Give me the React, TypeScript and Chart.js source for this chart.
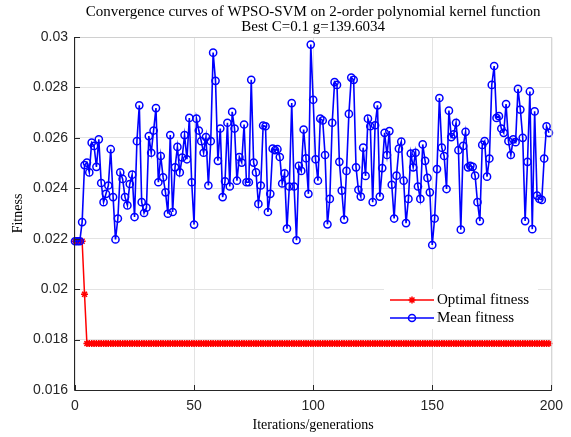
import React, { useEffect, useRef } from "react";
import { Chart, registerables } from "chart.js";
Chart.register(...registerables);

const titleLines = [
  "Convergence curves of WPSO-SVM on 2-order polynomial kernel function",
  "Best C=0.1 g=139.6034",
];
const xAxisTitle = "Iterations/generations";
const yAxisTitle = "Fitness";
const seriesNames = ["Optimal fitness", "Mean fitness"];

const iterations = Array.from({ length: 200 }, (_, i) => i);

const meanFitness = [
  0.0219, 0.0219, 0.0219, 0.02266, 0.02492, 0.02502, 0.02463, 0.02581, 0.02568, 0.02485,
  0.02594, 0.02421, 0.02345, 0.02378, 0.02411, 0.02555, 0.02365, 0.02197, 0.0228, 0.02463,
  0.02437, 0.02365, 0.02332, 0.02417, 0.02454, 0.02286, 0.02587, 0.02729, 0.02345, 0.02302,
  0.02323, 0.02607, 0.02541, 0.02629, 0.02718, 0.02424, 0.02528, 0.02443, 0.02384, 0.02299,
  0.02611, 0.02306, 0.02483, 0.02564, 0.02463, 0.02522, 0.02611, 0.02515, 0.02679, 0.02424,
  0.02256, 0.02676, 0.02629, 0.02587, 0.02541, 0.02603, 0.02411, 0.02587, 0.02938, 0.02826,
  0.02509, 0.02637, 0.02365, 0.02428, 0.0266, 0.02407, 0.02703, 0.02637, 0.0243, 0.02524,
  0.02502, 0.02653, 0.02424, 0.02424, 0.0283, 0.02502, 0.02463, 0.02338, 0.02411, 0.02649,
  0.02646, 0.02306, 0.02378, 0.02557, 0.02551, 0.02555, 0.02524, 0.02419, 0.02459, 0.0224,
  0.02407, 0.02738, 0.02407, 0.02194, 0.02489, 0.02469, 0.02633, 0.02519, 0.02378, 0.0297,
  0.02751, 0.02515, 0.0243, 0.02676, 0.02669, 0.02532, 0.02257, 0.02358, 0.0266, 0.02821,
  0.0281, 0.02505, 0.02391, 0.02276, 0.02469, 0.02695, 0.02839, 0.0283, 0.02483, 0.02394,
  0.02367, 0.02561, 0.02449, 0.02676, 0.02646, 0.02345, 0.0265, 0.02729, 0.02367, 0.0248,
  0.0262, 0.02532, 0.02627, 0.02414, 0.0228, 0.0245, 0.02557, 0.02585, 0.0243, 0.02262,
  0.02358, 0.02538, 0.02483, 0.02541, 0.02407, 0.02358, 0.02574, 0.02509, 0.02441, 0.02384,
  0.02175, 0.0228, 0.02476, 0.02758, 0.02561, 0.02528, 0.02397, 0.02708, 0.02603, 0.02614,
  0.0266, 0.02551, 0.02236, 0.02568, 0.02624, 0.02483, 0.02489, 0.02485, 0.0245, 0.02345,
  0.0227, 0.02572, 0.02587, 0.02446, 0.02518, 0.0281, 0.02885, 0.02679, 0.02686, 0.02637,
  0.0262, 0.02734, 0.02587, 0.02532, 0.02594, 0.02583, 0.02794, 0.02712, 0.026, 0.0227,
  0.02505, 0.02784, 0.02238, 0.02705, 0.02371, 0.02358, 0.02354, 0.02518, 0.02646, 0.0262,
];

const optimalFitness = [
  0.0219, 0.0219, 0.0219, 0.0219, 0.0198, 0.01784, 0.01784, 0.01784, 0.01784, 0.01784,
  0.01784, 0.01784, 0.01784, 0.01784, 0.01784, 0.01784, 0.01784, 0.01784, 0.01784, 0.01784,
  0.01784, 0.01784, 0.01784, 0.01784, 0.01784, 0.01784, 0.01784, 0.01784, 0.01784, 0.01784,
  0.01784, 0.01784, 0.01784, 0.01784, 0.01784, 0.01784, 0.01784, 0.01784, 0.01784, 0.01784,
  0.01784, 0.01784, 0.01784, 0.01784, 0.01784, 0.01784, 0.01784, 0.01784, 0.01784, 0.01784,
  0.01784, 0.01784, 0.01784, 0.01784, 0.01784, 0.01784, 0.01784, 0.01784, 0.01784, 0.01784,
  0.01784, 0.01784, 0.01784, 0.01784, 0.01784, 0.01784, 0.01784, 0.01784, 0.01784, 0.01784,
  0.01784, 0.01784, 0.01784, 0.01784, 0.01784, 0.01784, 0.01784, 0.01784, 0.01784, 0.01784,
  0.01784, 0.01784, 0.01784, 0.01784, 0.01784, 0.01784, 0.01784, 0.01784, 0.01784, 0.01784,
  0.01784, 0.01784, 0.01784, 0.01784, 0.01784, 0.01784, 0.01784, 0.01784, 0.01784, 0.01784,
  0.01784, 0.01784, 0.01784, 0.01784, 0.01784, 0.01784, 0.01784, 0.01784, 0.01784, 0.01784,
  0.01784, 0.01784, 0.01784, 0.01784, 0.01784, 0.01784, 0.01784, 0.01784, 0.01784, 0.01784,
  0.01784, 0.01784, 0.01784, 0.01784, 0.01784, 0.01784, 0.01784, 0.01784, 0.01784, 0.01784,
  0.01784, 0.01784, 0.01784, 0.01784, 0.01784, 0.01784, 0.01784, 0.01784, 0.01784, 0.01784,
  0.01784, 0.01784, 0.01784, 0.01784, 0.01784, 0.01784, 0.01784, 0.01784, 0.01784, 0.01784,
  0.01784, 0.01784, 0.01784, 0.01784, 0.01784, 0.01784, 0.01784, 0.01784, 0.01784, 0.01784,
  0.01784, 0.01784, 0.01784, 0.01784, 0.01784, 0.01784, 0.01784, 0.01784, 0.01784, 0.01784,
  0.01784, 0.01784, 0.01784, 0.01784, 0.01784, 0.01784, 0.01784, 0.01784, 0.01784, 0.01784,
  0.01784, 0.01784, 0.01784, 0.01784, 0.01784, 0.01784, 0.01784, 0.01784, 0.01784, 0.01784,
  0.01784, 0.01784, 0.01784, 0.01784, 0.01784, 0.01784, 0.01784, 0.01784, 0.01784, 0.01784,
];

const xTicks = [0, 50, 100, 150, 200];
const yTicks = [0.016, 0.018, 0.02, 0.022, 0.024, 0.026, 0.028, 0.03];

const RED = "#ff0000";
const BLUE = "#0000ff";
const SERIF = '"Liberation Serif", "Times New Roman", serif';
const SANS = '"Liberation Sans", Arial, sans-serif';

function drawStar(ctx: CanvasRenderingContext2D, x: number, y: number, r: number) {
  ctx.beginPath();
  for (let k = 0; k < 4; k++) {
    const a = (k * Math.PI) / 4;
    ctx.moveTo(x - r * Math.cos(a), y - r * Math.sin(a));
    ctx.lineTo(x + r * Math.cos(a), y + r * Math.sin(a));
  }
  ctx.stroke();
}

const decorPlugin = {
  id: "decor",
  afterDatasetsDraw(chart: any) {
    const { ctx, chartArea } = chart;
    const { left, right, top, bottom } = chartArea;
    const xs = chart.scales.x;
    const ys = chart.scales.y;
    ctx.save();
    // box
    ctx.lineWidth = 1;
    ctx.strokeStyle = "#d0d0d0";
    ctx.beginPath();
    ctx.moveTo(left, top + 0.5);
    ctx.lineTo(right + 0.5, top + 0.5);
    ctx.lineTo(right + 0.5, bottom);
    ctx.stroke();
    ctx.strokeStyle = "#262626";
    ctx.beginPath();
    ctx.moveTo(left - 0.5, top);
    ctx.lineTo(left - 0.5, bottom + 0.5);
    ctx.lineTo(right + 0.5, bottom + 0.5);
    ctx.stroke();
    // inward ticks
    ctx.beginPath();
    for (const t of xTicks) {
      const px = Math.round(xs.getPixelForValue(t)) + 0.5;
      ctx.moveTo(px, bottom);
      ctx.lineTo(px, bottom - 5);
    }
    for (const t of yTicks) {
      const py = Math.round(ys.getPixelForValue(t)) + 0.5;
      ctx.moveTo(left, py);
      ctx.lineTo(left + 5, py);
    }
    ctx.stroke();
    ctx.restore();
  },
  afterDraw(chart: any) {
    const { ctx, chartArea } = chart;
    const cx = (chartArea.left + chartArea.right) / 2;
    ctx.save();
    ctx.fillStyle = "#000";
    ctx.textAlign = "center";
    ctx.textBaseline = "middle";
    ctx.font = `15px ${SERIF}`;
    ctx.fillText(titleLines[0], cx, 12);
    ctx.fillText(titleLines[1], cx, 27);
    ctx.font = `14px ${SERIF}`;
    ctx.fillText(xAxisTitle, cx, 425);
    ctx.save();
    ctx.translate(18, (chartArea.top + chartArea.bottom) / 2);
    ctx.rotate(-Math.PI / 2);
    ctx.fillText(yAxisTitle, 0, 0);
    ctx.restore();

    // legend
    ctx.fillStyle = "#ffffff";
    ctx.fillRect(384, 289, 154, 40);
    const rows = [
      { y: 300, color: RED, name: seriesNames[0], star: true },
      { y: 318, color: BLUE, name: seriesNames[1], star: false },
    ];
    for (const r of rows) {
      ctx.strokeStyle = r.color;
      ctx.lineWidth = 1.5;
      ctx.beginPath();
      ctx.moveTo(390, r.y);
      ctx.lineTo(434, r.y);
      ctx.stroke();
      if (r.star) {
        drawStar(ctx, 412, r.y, 3.5);
      } else {
        ctx.beginPath();
        ctx.arc(412, r.y, 3.5, 0, Math.PI * 2);
        ctx.stroke();
      }
      ctx.fillStyle = "#000";
      ctx.textAlign = "left";
      ctx.font = `15px ${SERIF}`;
      ctx.fillText(r.name, 437, r.y);
    }
    ctx.restore();
  },
};

export default function App() {
  const ref = useRef<HTMLCanvasElement | null>(null);
  useEffect(() => {
    document.body.style.margin = "0";
    const canvas = ref.current!;
    const chart = new Chart(canvas, {
      type: "line",
      data: {
        datasets: [
          {
            label: seriesNames[0],
            data: iterations.map((x, i) => ({ x, y: optimalFitness[i] })),
            borderColor: RED,
            backgroundColor: RED,
            borderWidth: 1.5,
            pointStyle: "star",
            pointRadius: 3.5,
            pointBorderWidth: 1.5,
            pointBorderColor: RED,
            fill: false,
            tension: 0,
            clip: false,
            order: 1,
          },
          {
            label: seriesNames[1],
            data: iterations.map((x, i) => ({ x, y: meanFitness[i] })),
            borderColor: BLUE,
            backgroundColor: "rgba(0,0,0,0)",
            borderWidth: 1.6,
            pointStyle: "circle",
            pointRadius: 3.6,
            pointBorderWidth: 1.5,
            pointBorderColor: BLUE,
            pointBackgroundColor: "rgba(0,0,0,0)",
            fill: false,
            tension: 0,
            clip: false,
            order: 0,
          },
        ],
      },
      options: {
        animation: false,
        responsive: false,
        devicePixelRatio: 1,
        layout: { padding: { top: 37, right: 15, left: 0, bottom: 0 } },
        plugins: {
          legend: { display: false },
          title: { display: false },
          tooltip: { enabled: false },
        },
        scales: {
          x: {
            type: "linear",
            min: 0,
            max: 200,
            afterBuildTicks: (s: any) => {
              s.ticks = xTicks.map((v) => ({ value: v }));
            },
            afterFit: (s: any) => {
              s.height = 47;
            },
            ticks: {
              font: { family: SANS, size: 14 },
              color: "#262626",
              padding: 8,
              maxRotation: 0,
            },
            grid: { color: "#e3e3e3", drawTicks: false, lineWidth: 1 },
            border: { display: false },
          },
          y: {
            type: "linear",
            min: 0.016,
            max: 0.03,
            afterBuildTicks: (s: any) => {
              s.ticks = yTicks.map((v) => ({ value: v }));
            },
            afterFit: (s: any) => {
              s.width = 75;
            },
            ticks: {
              font: { family: SANS, size: 14 },
              color: "#262626",
              padding: 7,
              callback: (v: any) => String(Number(Number(v).toFixed(3))),
            },
            grid: { color: "#e3e3e3", drawTicks: false, lineWidth: 1 },
            border: { display: false },
          },
        },
      },
      plugins: [decorPlugin],
    });
    return () => chart.destroy();
  }, []);
  return (
    <div style={{ width: 571, height: 437, background: "#fff" }}>
      <canvas ref={ref} width={571} height={437} style={{ display: "block" }} />
    </div>
  );
}
